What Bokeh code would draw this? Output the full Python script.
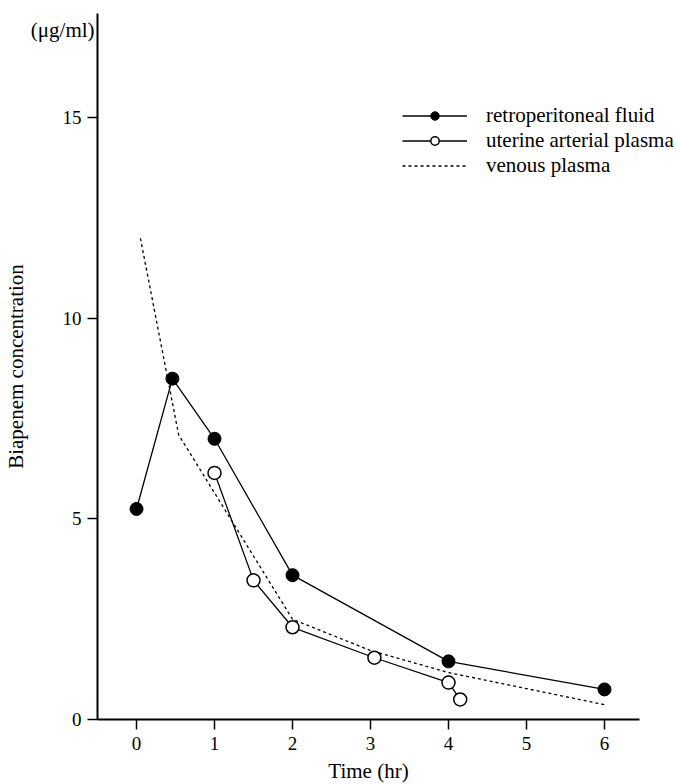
from bokeh.plotting import figure
from bokeh.models import Range1d, Label, Legend, LegendItem, FixedTicker
from bokeh.embed import file_html
from bokeh.resources import INLINE

# Data
retro_time = [0, 0.46, 1, 2, 4, 6]
retro_conc = [5.25, 8.5, 7.0, 3.6, 1.45, 0.75]

uterine_time = [1, 1.5, 2, 3.05, 4, 4.15]
uterine_conc = [6.15, 3.47, 2.3, 1.54, 0.92, 0.5]

venous_time = [0.05, 0.54, 2, 3, 4, 6]
venous_conc = [12.0, 7.1, 2.5, 1.72, 1.17, 0.37]

x_ticks = [0, 1, 2, 3, 4, 5, 6]
y_ticks = [0, 5, 10, 15]

FONT = "Liberation Serif"

# Frame spans the whole canvas; axes are pinned with fixed_location so that
# texts outside the axes (unit label, legend) are not clipped.
p = figure(width=677, height=784,
           x_range=Range1d(-1.744, 6.936), y_range=Range1d(-1.621, 17.93),
           output_backend="svg", toolbar_location=None,
           min_border_left=0, min_border_right=0,
           min_border_top=0, min_border_bottom=0)
p.title.visible = False
p.outline_line_color = None
p.xgrid.visible = False
p.ygrid.visible = False
p.background_fill_color = "white"
p.border_fill_color = "white"

for ax in (p.xaxis[0], p.yaxis[0]):
    ax.axis_line_width = 2
    ax.axis_line_color = "black"
    ax.major_tick_line_width = 1.5
    ax.major_tick_line_color = "black"
    ax.major_tick_out = 10
    ax.major_tick_in = 0
    ax.minor_tick_line_color = None
    ax.major_label_text_font = FONT
    ax.major_label_text_font_size = "19px"
    ax.major_label_text_color = "black"
    ax.axis_label_text_font = FONT
    ax.axis_label_text_font_size = "21px"
    ax.axis_label_text_font_style = "normal"
    ax.axis_label_text_color = "black"

p.xaxis.ticker = FixedTicker(ticks=x_ticks)
p.yaxis.ticker = FixedTicker(ticks=y_ticks)
p.xaxis.fixed_location = 0
p.yaxis.fixed_location = -0.5
p.xaxis.bounds = (-0.5, 6.45)
p.yaxis.bounds = (0, 17.6)
p.xaxis.axis_label = "Time (hr)"
p.yaxis.axis_label = "Biapenem concentration"
p.xaxis.major_label_standoff = 8
p.xaxis.axis_label_standoff = 5
p.yaxis.major_label_standoff = 6
p.yaxis.axis_label_standoff = 32

# venous plasma (dashed)
venous_line = p.line(venous_time, venous_conc, line_color="black",
                     line_width=1.3, line_dash="3 3")

# uterine arterial plasma (open circles)
ut_line = p.line(uterine_time, uterine_conc, line_color="black", line_width=1.3)
ut_pts = p.scatter(uterine_time, uterine_conc, marker="circle", size=13,
                   fill_color="white", line_color="black", line_width=1.5)

# retroperitoneal fluid (filled circles)
rt_line = p.line(retro_time, retro_conc, line_color="black", line_width=1.3)
rt_pts = p.scatter(retro_time, retro_conc, marker="circle", size=13,
                   fill_color="black", line_color="black", line_width=1)

legend = Legend(items=[
    LegendItem(label="retroperitoneal fluid", renderers=[rt_line, rt_pts]),
    LegendItem(label="uterine arterial plasma", renderers=[ut_line, ut_pts]),
    LegendItem(label="venous plasma", renderers=[venous_line]),
], location=(402, 606))
legend.label_text_font = FONT
legend.label_text_font_size = "21px"
legend.label_text_color = "black"
legend.glyph_width = 65
legend.glyph_height = 21
legend.label_height = 21
legend.spacing = 0
legend.padding = 10
legend.label_standoff = 19
legend.border_line_color = None
legend.background_fill_alpha = 0
p.add_layout(legend)

unit_label = Label(x=-0.538, y=17.2, text="(\u03bcg/ml)",
                   text_align="right", text_baseline="middle",
                   text_font=FONT, text_font_size="21px", text_color="black")
p.add_layout(unit_label)

open("out.html", "w").write(file_html(p, INLINE))
